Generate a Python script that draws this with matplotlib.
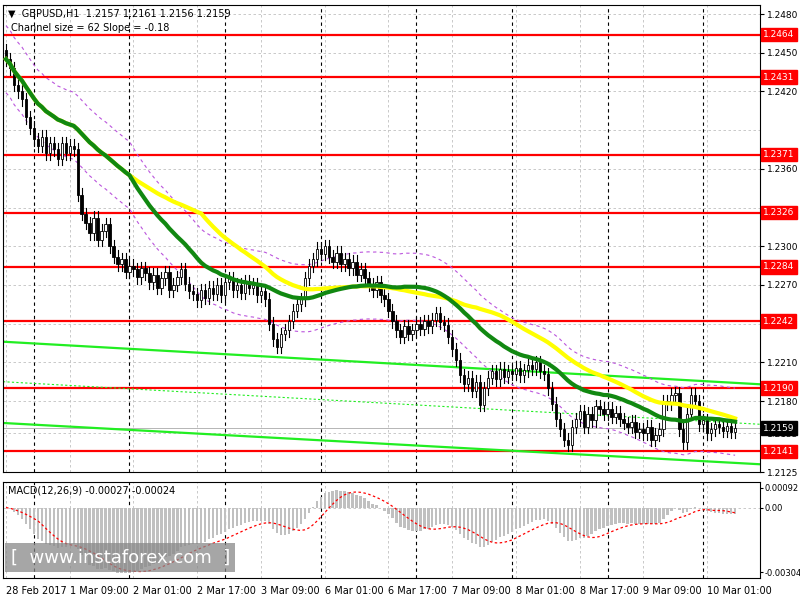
import numpy as np
import pandas as pd
import matplotlib
matplotlib.use("Agg")
import matplotlib.pyplot as plt

# hourly closes, 28 Feb 17:00 -> 10 Mar 08:00 (GBPUSD H1)
closes = [
    1.2445, 1.2438, 1.2425, 1.2420, 1.2414, 1.2400, 1.2392, 1.2383, 1.2378, 1.2385,
    1.2372, 1.2380, 1.2375, 1.2368, 1.2380, 1.2372, 1.2378, 1.2375, 1.2340, 1.2325,
    1.2318, 1.2310, 1.2322, 1.2305, 1.2312, 1.2317, 1.2300, 1.2292, 1.2286, 1.2290,
    1.2280, 1.2285, 1.2282, 1.2276, 1.2283, 1.2279, 1.2272, 1.2278, 1.2268, 1.2275,
    1.2280, 1.2266, 1.2270, 1.2276, 1.2282, 1.2271, 1.2265, 1.2263, 1.2258, 1.2266,
    1.2260, 1.2268, 1.2263, 1.2270, 1.2262, 1.2272, 1.2275, 1.2266, 1.2270, 1.2264,
    1.2273, 1.2268, 1.2270, 1.2262, 1.2265, 1.2259, 1.2240, 1.2228, 1.2222, 1.2232,
    1.2235, 1.2242, 1.2250, 1.2255, 1.2259, 1.2275, 1.2285, 1.2290, 1.2298, 1.2294,
    1.2300, 1.2292, 1.2288, 1.2295, 1.2286, 1.2290, 1.2283, 1.2288, 1.2278, 1.2282,
    1.2275, 1.2270, 1.2266, 1.2272, 1.2262, 1.2259, 1.2250, 1.2242, 1.2235, 1.2230,
    1.2238, 1.2232, 1.2235, 1.2240, 1.2236, 1.2242, 1.2238, 1.2243, 1.2248, 1.2241,
    1.2239, 1.2230, 1.2220, 1.2212, 1.2200, 1.2193, 1.2198, 1.2188, 1.2195, 1.2177,
    1.2190, 1.2198, 1.2203, 1.2197, 1.2205, 1.2199, 1.2203, 1.2201, 1.2206, 1.2200,
    1.2204, 1.2208, 1.2205, 1.2210, 1.2203, 1.2201, 1.2190, 1.2178, 1.2166, 1.2158,
    1.2150, 1.2146, 1.2160, 1.2166, 1.2172, 1.2160, 1.2170, 1.2165, 1.2176, 1.2174,
    1.2170, 1.2174, 1.2168, 1.2171, 1.2166, 1.2163, 1.2160, 1.2164, 1.2156, 1.2158,
    1.2155, 1.2160, 1.2150, 1.2154, 1.2158, 1.2180, 1.2178, 1.2185, 1.2186, 1.2158,
    1.2148, 1.2170, 1.2185, 1.2180, 1.2162, 1.2165, 1.2155, 1.2158, 1.2162, 1.2160,
    1.2157, 1.2161, 1.2156, 1.2159,
]
first_open = 1.2452
levels = [1.2464, 1.2431, 1.2371, 1.2326, 1.2284, 1.2242, 1.2190, 1.2141]
ytick_vals = [1.2480, 1.2450, 1.2420, 1.2360, 1.2300, 1.2270, 1.2210, 1.2180, 1.2155, 1.2125]
ygrid_vals = [1.2480, 1.2450, 1.2420, 1.2390, 1.2360, 1.2330, 1.2300, 1.2270, 1.2240,
              1.2210, 1.2180, 1.2155, 1.2125]
xlabel_bars = [0, 16, 32, 48, 64, 80, 96, 112, 128, 144, 160, 176]
xlabels = ["28 Feb 2017", "1 Mar 09:00", "2 Mar 01:00", "2 Mar 17:00", "3 Mar 09:00",
           "6 Mar 01:00", "6 Mar 17:00", "7 Mar 09:00", "8 Mar 01:00", "8 Mar 17:00",
           "9 Mar 09:00", "10 Mar 01:00"]
day_bars = [7, 31, 55, 79, 103, 127, 151, 175]
# linear regression channel (start, end price)
chan_top = (1.2226, 1.2193)
chan_mid = (1.2195, 1.2162)
chan_bot = (1.2163, 1.2131)

c = np.array(closes)
n = len(c)
idx = np.arange(n)
o = np.concatenate([[first_open], c[:-1]])
hi = np.maximum(o, c) + 0.0005
lo = np.minimum(o, c) - 0.0005

s = pd.Series(c)
ma_fast = s.rolling(32, min_periods=1).mean()
ma_slow = s.rolling(50, min_periods=1).mean()
ema12 = s.ewm(span=12, adjust=False).mean()
ema26 = s.ewm(span=26, adjust=False).mean()
macd = ema12 - ema26
signal = macd.rolling(9, min_periods=1).mean()

fig = plt.figure(figsize=(8, 6), dpi=100)
ax = fig.add_axes([3/800, 1-472/600, 757/800, 467/600])
ax2 = fig.add_axes([3/800, 1-578/600, 757/800, 96/600])
xmax = 189.25

for a in (ax, ax2):
    a.set_xlim(-0.75, xmax)
    a.tick_params(left=False, labelleft=False, right=True, labelright=True,
                  bottom=False, labelbottom=False, labelsize=6.5, length=3, pad=2)
    for b in day_bars:
        a.axvline(b, color="black", ls=(0, (3, 3)), lw=0.8)
    for b in xlabel_bars:
        a.axvline(b, color="#c0c0c0", ls=(0, (3, 3)), lw=0.6, zorder=0)
ax2.tick_params(labelsize=6, pad=1, length=2)

ax.set_ylim(1.2125, 1.2487)
ax.set_yticks(ytick_vals)
ax.set_yticklabels([f"{v:.4f}" for v in ytick_vals])
for v in ygrid_vals:
    ax.axhline(v, color="#c0c0c0", ls=(0, (3, 3)), lw=0.6, zorder=0)

# levels
for v in levels:
    ax.axhline(v, color="red", lw=1.6, zorder=2)
    ax.text(1.004, v, f"{v:.4f}", transform=ax.get_yaxis_transform(), va="center",
            ha="left", fontsize=6.5, color="white",
            bbox=dict(boxstyle="square,pad=0.25", fc="red", ec="red"), zorder=5)

# channel
ax.plot([-0.75, xmax], chan_top, color="#22ee22", lw=1.6, zorder=2)
ax.plot([-0.75, xmax], chan_bot, color="#22ee22", lw=1.6, zorder=2)
ax.plot([-0.75, xmax], chan_mid, color="#22ee22", lw=0.8, ls=(0, (2, 2)), zorder=2)

# envelopes
ax.plot(idx, ma_fast + 0.0026, color="#bb55dd", lw=0.8, ls=(0, (3, 3)), zorder=2)
ax.plot(idx, ma_fast - 0.0026, color="#bb55dd", lw=0.8, ls=(0, (3, 3)), zorder=2)

# candles
for i in range(n):
    ax.plot([i, i], [lo[i], hi[i]], color="black", lw=0.8, zorder=3)
    bottom = min(o[i], c[i])
    h = max(abs(c[i] - o[i]), 0.00003)
    fc = "white" if c[i] >= o[i] else "black"
    ax.bar(i, h, bottom=bottom, width=0.6, color=fc, edgecolor="black", lw=0.6, zorder=4)

ax.plot(idx, ma_slow, color="#ffff00", lw=3, zorder=5)
ax.plot(idx, ma_fast, color="#118811", lw=3, zorder=6)

last = closes[-1]
ax.axhline(last, color="#aaaaaa", lw=0.6, zorder=1)
ax.text(1.004, last, f"{last:.4f}", transform=ax.get_yaxis_transform(), va="center",
        ha="left", fontsize=6.5, color="white",
        bbox=dict(boxstyle="square,pad=0.25", fc="black", ec="black"), zorder=6)

ax.text(0.006, 0.992, "▼  GBPUSD,H1  1.2157 1.2161 1.2156 1.2159", transform=ax.transAxes,
        fontsize=7, va="top", ha="left")
ax.text(0.01, 0.962, "Channel size = 62 Slope = -0.18", transform=ax.transAxes,
        fontsize=7, va="top", ha="left")

# MACD
ax2.set_ylim(-0.00330, 0.00120)
ax2.set_yticks([0.00092, 0.0, -0.00304])
ax2.set_yticklabels(["0.00092", "0.00", "-0.00304"])
ax2.axhline(0, color="#c0c0c0", ls=(0, (3, 3)), lw=0.6, zorder=0)
ax2.bar(idx, macd, width=0.6, color="#c0c0c0", zorder=2)
ax2.plot(idx, signal, color="red", lw=0.9, ls=(0, (2, 2)), zorder=3)
ax2.text(0.006, 0.96, "MACD(12,26,9) -0.00027 -0.00024", transform=ax2.transAxes,
         fontsize=7, va="top", ha="left")
ax2.text(0.01, 0.12, "[  www.instaforex.com  ]", transform=ax2.transAxes, fontsize=13,
         color="white", va="bottom", ha="left",
         bbox=dict(boxstyle="square,pad=0.3", fc="#888888", ec="none", alpha=0.75), zorder=7)

for b, lab in zip(xlabel_bars, xlabels):
    ax2.annotate(lab, xy=(b, 0), xycoords=("data", "axes fraction"), xytext=(0, -6),
                 textcoords="offset points", fontsize=7, va="top", ha="left")

fig.savefig("out.png", dpi=100)
